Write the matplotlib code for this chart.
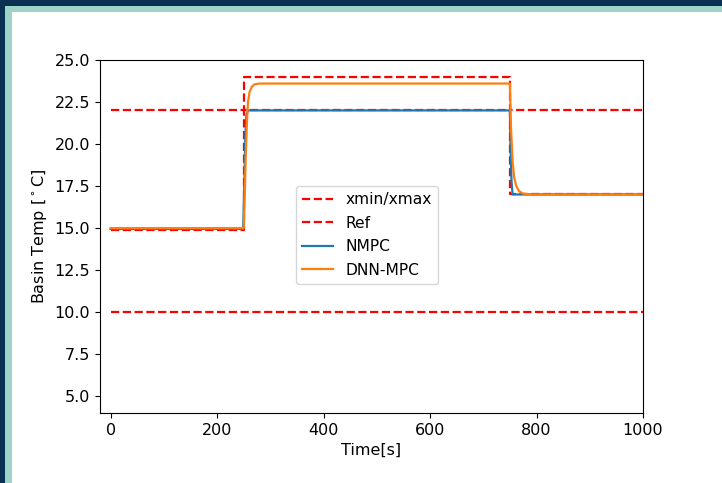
import matplotlib
matplotlib.use('Agg')
import matplotlib.pyplot as plt
from matplotlib.patches import Rectangle

plt.rcParams['font.size'] = 11.5

# ── Datos ─────────────────────────────────
t_lim = [0, 250, 250, 750, 750, 1000]
x_max = [22, 22, 24, 24, 22, 22]
x_min = [10, 10, 10, 10, 10, 10]
ref = [14.9, 14.9, 22, 22, 17, 17]

t_nmpc = [0, 249, 251, 253, 255, 258, 750, 751, 753, 755, 1000]
nmpc = [14.95, 14.95, 17.5, 20.5, 21.7, 22.0, 22.0, 20.0, 17.8, 17.0, 17.0]

t_dnn = [0, 250, 252, 254, 256, 258, 261, 265, 270, 280,
         750, 752, 755, 758, 762, 767, 775, 790, 1000]
dnn = [15.0, 15.0, 17.0, 19.5, 21.3, 22.5, 23.1, 23.4, 23.55, 23.6,
       23.6, 21.0, 19.0, 18.0, 17.5, 17.2, 17.05, 17.0, 17.0]

fig = plt.figure(figsize=(7.22, 4.83), dpi=100)
fig.patch.set_facecolor('#0b3152')
# marco de la diapositiva
fig.add_artist(Rectangle((5 / 722, -0.1), 1.2, 1 - 6 / 483 + 0.1,
                         transform=fig.transFigure, facecolor='#9fd3c7',
                         edgecolor='none', zorder=-2))
fig.add_artist(Rectangle((12 / 722, -0.1), 1.2, 1 - 12 / 483 + 0.1,
                         transform=fig.transFigure, facecolor='white',
                         edgecolor='none', zorder=-1))

ax = fig.add_axes([100 / 722, 1 - 413 / 483, 543 / 722, 353 / 483])
ax.set_zorder(1)

ax.plot(t_lim, x_max, 'r--', lw=1.6, label='xmin/xmax')
ax.plot(t_lim, x_min, 'r--', lw=1.6)
ax.plot(t_lim, ref, 'r--', lw=1.6, label='Ref')
ax.plot(t_nmpc, nmpc, color='#1f77b4', lw=1.6, label='NMPC')
ax.plot(t_dnn, dnn, color='#ff7f0e', lw=1.6, label='DNN-MPC')

ax.set_xlim(-20, 1000)
ax.set_ylim(4, 25)
ax.set_yticks([5, 7.5, 10, 12.5, 15, 17.5, 20, 22.5, 25])
ax.set_xticks([0, 200, 400, 600, 800, 1000])
ax.set_xlabel('Time[s]')
ax.set_ylabel(r'Basin Temp [$^\circ$C]')

ax.legend(loc='upper left', bbox_to_anchor=(0.361, 0.643), borderaxespad=0,
          fontsize=11.2, labelspacing=0.55)

plt.savefig('out.png', dpi=100, facecolor=fig.get_facecolor())
